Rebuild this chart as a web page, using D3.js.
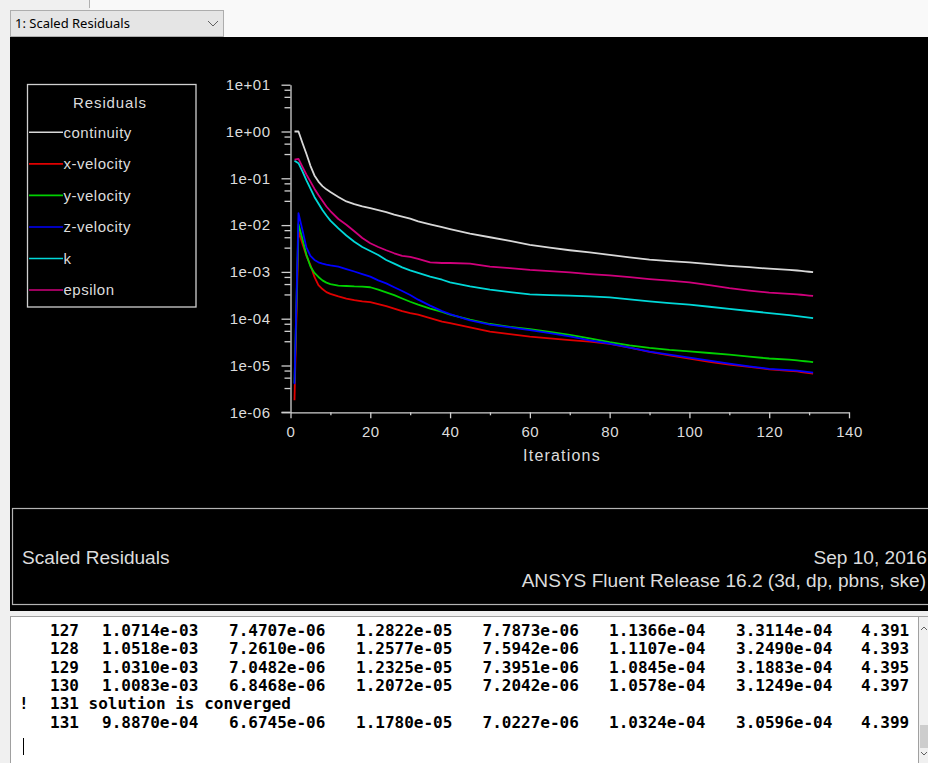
<!DOCTYPE html>
<html><head><meta charset="utf-8">
<script src="https://cdn.jsdelivr.net/npm/d3@7"></script>
<style>
html,body{margin:0;padding:0;background:#f0f0f0;overflow:hidden;}
svg{display:block;}
</style></head><body>
<svg id="c" width="928" height="763"></svg>
<script>
// ---------------- data ----------------
const iterations = [1,2,3,4,5,6,7,8,9,10,12,14,16,18,20,22,24,26,28,30,32,35,38,40,45,50,55,60,65,70,75,80,85,90,95,100,105,110,115,120,125,127,128,129,130,131];
const continuity = [1.0,1.0,0.57,0.33,0.185,0.115,0.085,0.068,0.058,0.051,0.040,0.032,0.028,0.025,0.023,0.021,0.019,0.0168,0.0152,0.0137,0.0120,0.0104,0.0090,0.0082,0.0066,0.0055,0.0046,0.0038,0.0033,0.0029,0.0026,0.0023,0.00205,0.00183,0.00170,0.00160,0.00147,0.00135,0.00126,0.00117,0.00111,1.0714e-3,1.0518e-3,1.0310e-3,1.0083e-3,9.8870e-4];
const xVelocity = [1.8e-6,7.5e-3,4.0e-3,2.2e-3,1.4e-3,7.8e-4,5.2e-4,4.3e-4,3.7e-4,3.4e-4,3.0e-4,2.7e-4,2.5e-4,2.35e-4,2.25e-4,2.05e-4,1.85e-4,1.65e-4,1.45e-4,1.32e-4,1.22e-4,1.03e-4,8.7e-5,8.0e-5,6.5e-5,5.3e-5,4.7e-5,4.15e-5,3.8e-5,3.5e-5,3.25e-5,2.9e-5,2.4e-5,1.95e-5,1.65e-5,1.4e-5,1.2e-5,1.05e-5,9.3e-6,8.3e-6,7.7e-6,7.4707e-6,7.2610e-6,7.0482e-6,6.8468e-6,6.6745e-6];
const yVelocity = [4.2e-6,1.05e-2,5.0e-3,2.3e-3,1.3e-3,9.5e-4,7.8e-4,6.6e-4,5.9e-4,5.5e-4,5.1e-4,5.0e-4,4.9e-4,4.85e-4,4.7e-4,4.2e-4,3.65e-4,3.2e-4,2.7e-4,2.3e-4,2.0e-4,1.65e-4,1.4e-4,1.22e-4,9.5e-5,7.7e-5,6.7e-5,6.0e-5,5.2e-5,4.5e-5,3.8e-5,3.15e-5,2.7e-5,2.37e-5,2.15e-5,2.0e-5,1.85e-5,1.7e-5,1.55e-5,1.41e-5,1.33e-5,1.2822e-5,1.2577e-5,1.2325e-5,1.2072e-5,1.1780e-5];
const zVelocity = [4.0e-6,1.8e-2,7.8e-3,3.3e-3,2.2e-3,1.8e-3,1.6e-3,1.5e-3,1.43e-3,1.38e-3,1.3e-3,1.15e-3,1.02e-3,9.0e-4,7.9e-4,6.6e-4,5.7e-4,4.7e-4,3.9e-4,3.2e-4,2.55e-4,1.9e-4,1.45e-4,1.25e-4,9.2e-5,7.5e-5,6.5e-5,5.7e-5,4.9e-5,4.2e-5,3.45e-5,2.95e-5,2.4e-5,1.97e-5,1.7e-5,1.47e-5,1.27e-5,1.1e-5,9.6e-6,8.5e-6,8.0e-6,7.7873e-6,7.5942e-6,7.3951e-6,7.2042e-6,7.0227e-6];
const kResidual = [0.236,0.21,0.14,0.09,0.06,0.04,0.029,0.021,0.016,0.0125,0.0085,0.006,0.0044,0.0034,0.0028,0.0023,0.0018,0.0015,0.00125,0.00108,0.00095,0.00079,0.00068,0.0006,0.00049,0.00042,0.00037,0.00033,0.00032,0.00031,0.00030,0.000285,0.00026,0.000235,0.000215,0.0002,0.00018,0.000162,0.000146,0.000132,0.000119,1.1366e-4,1.1107e-4,1.0845e-4,1.0578e-4,1.0324e-4];
const epsilonResidual = [0.25,0.26,0.175,0.12,0.085,0.06,0.044,0.033,0.025,0.02,0.0135,0.0102,0.0074,0.0053,0.0041,0.0034,0.0029,0.0025,0.0022,0.0021,0.0019,0.0016,0.00155,0.00155,0.0015,0.0013,0.0012,0.0011,0.00104,0.00098,0.0009,0.00084,0.00077,0.0007,0.00065,0.0006,0.00052,0.00045,0.0004,0.00036,0.00034,3.3114e-4,3.2490e-4,3.1883e-4,3.1249e-4,3.0596e-4];

const seriesNames = ["continuity","x-velocity","y-velocity","z-velocity","k","epsilon"];
const seriesValues = [continuity,xVelocity,yVelocity,zVelocity,kResidual,epsilonResidual];

const xTicks = [0,20,40,60,80,100,120,140];
const xMinorTicks = [10,30,50,70,90,110,130];
const yTicks = [1e-6,1e-5,1e-4,1e-3,1e-2,1e-1,1e0,1e1];
const yTickLabels = ["1e-06","1e-05","1e-04","1e-03","1e-02","1e-01","1e+00","1e+01"];
const yMinorFactors = [0.78,0.55,0.33];

const consoleRows = [
  ["127","1.0714e-03","7.4707e-06","1.2822e-05","7.7873e-06","1.1366e-04","3.3114e-04","4.391"],
  ["128","1.0518e-03","7.2610e-06","1.2577e-05","7.5942e-06","1.1107e-04","3.2490e-04","4.393"],
  ["129","1.0310e-03","7.0482e-06","1.2325e-05","7.3951e-06","1.0845e-04","3.1883e-04","4.395"],
  ["130","1.0083e-03","6.8468e-06","1.2072e-05","7.2042e-06","1.0578e-04","3.1249e-04","4.397"],
  ["131 solution is converged"],
  ["131","9.8870e-04","6.6745e-06","1.1780e-05","7.0227e-06","1.0324e-04","3.0596e-04","4.399"]
];
const convergedMark = "!";
const dropdownLabel = "1: Scaled Residuals";
const footerTitle = "Scaled Residuals";
const footerDate = "Sep 10, 2016";
const footerRelease = "ANSYS Fluent Release 16.2 (3d, dp, pbns, ske)";
const legendTitle = "Residuals";
const xAxisTitle = "Iterations";

// ---------------- style ----------------
const seriesColors = ["#d8d8d8","#e00000","#00d000","#0000ff","#00d8d8","#d0007c"];
const fg = "#dcdcdc";
const sansFont = "'Liberation Sans', Arial, sans-serif";

const svg = d3.select("#c");

// window background
svg.append("rect").attr("x",0).attr("y",0).attr("width",928).attr("height",763).attr("fill","#f0f0f0");
svg.append("rect").attr("x",90).attr("y",0).attr("width",838).attr("height",37).attr("fill","#f9f9f9");
svg.append("rect").attr("x",0).attr("y",0).attr("width",90).attr("height",9).attr("fill","#f0f0f0");
svg.append("line").attr("x1",89.5).attr("x2",89.5).attr("y1",0).attr("y2",8).attr("stroke","#b0b0b0");

// dropdown
const dd = svg.append("g");
dd.append("rect").attr("x",10.5).attr("y",10.5).attr("width",213).attr("height",26).attr("fill","#e5e5e5").attr("stroke","#adadad");
dd.append("text").attr("x",15).attr("y",28).attr("font-family","'Noto Sans', 'Open Sans', sans-serif").attr("font-size",13).attr("fill","#000").text(dropdownLabel);
dd.append("path").attr("d","M208,21 L213,26 L218,21").attr("fill","none").attr("stroke","#606060").attr("stroke-width",1);

// black graphics area
svg.append("rect").attr("x",10).attr("y",37).attr("width",918).attr("height",574).attr("fill","#000");

// scales
const x = d3.scaleLinear().domain([0,140]).range([290.5,849]);
const y = d3.scaleLog().domain([1e-6,1e1]).range([412.3,84.7]);

// axes
const yMinor = [];
yTicks.slice(1).forEach(t => yMinorFactors.forEach(f => yMinor.push(t*f)));

const axStyle = g => {
  g.selectAll("path,line").attr("stroke","#d0d0d0").attr("stroke-width",1.3);
  g.selectAll("text").attr("fill",fg).attr("font-family",sansFont).attr("font-size",15).attr("letter-spacing","0.5px");
};

svg.append("g").attr("transform","translate(290.5,0)")
  .call(d3.axisLeft(y).tickValues(yTicks).tickSize(9).tickSizeOuter(0).tickPadding(11)
    .tickFormat((d,i)=>yTickLabels[i]))
  .call(axStyle);
svg.append("g").attr("transform","translate(290.5,0)")
  .call(d3.axisLeft(y).tickValues(yMinor).tickSize(6).tickSizeOuter(0).tickFormat(""))
  .call(g=>g.select(".domain").remove())
  .call(axStyle);

svg.append("g").attr("transform","translate(0,412.3)")
  .call(d3.axisBottom(x).tickValues(xTicks).tickSize(6).tickSizeOuter(0).tickPadding(8))
  .call(axStyle);
svg.append("g").attr("transform","translate(0,412.3)")
  .call(d3.axisBottom(x).tickValues(xMinorTicks).tickSize(3).tickSizeOuter(0).tickFormat(""))
  .call(g=>g.select(".domain").remove())
  .call(axStyle);
svg.append("line").attr("x1",281.5).attr("x2",290.5).attr("y1",412.3).attr("y2",412.3).attr("stroke","#d0d0d0").attr("stroke-width",1.3);

svg.append("text").attr("x",562).attr("y",461).attr("text-anchor","middle")
  .attr("fill",fg).attr("font-family",sansFont).attr("font-size",16).attr("letter-spacing","1.2px").text(xAxisTitle);

// series lines
const line = d3.line().x(d=>x(d[0])).y(d=>y(d[1]));
seriesValues.forEach((vals,si)=>{
  svg.append("path")
    .datum(iterations.map((it,i)=>[it,vals[i]]))
    .attr("fill","none").attr("stroke",seriesColors[si]).attr("stroke-width",1.8)
    .attr("stroke-linejoin","round")
    .attr("d",line);
});

// legend
const lg = svg.append("g");
lg.append("rect").attr("x",27.5).attr("y",84.5).attr("width",168.5).attr("height",222.5)
  .attr("fill","#000").attr("stroke","#d0d0d0").attr("stroke-width",1.3);
lg.append("text").attr("x",110).attr("y",107.5).attr("text-anchor","middle")
  .attr("fill",fg).attr("font-family",sansFont).attr("font-size",15).attr("letter-spacing","0.9px").text(legendTitle);
seriesNames.forEach((n,i)=>{
  const yy = 132.3 + i*31.55;
  lg.append("line").attr("x1",29).attr("x2",63).attr("y1",yy).attr("y2",yy).attr("stroke",seriesColors[i]).attr("stroke-width",1.6);
  lg.append("text").attr("x",63.5).attr("y",yy+5.2).attr("fill",fg).attr("font-family",sansFont)
    .attr("font-size",15).attr("letter-spacing","0.5px").text(n);
});

// footer box
svg.append("rect").attr("x",12.5).attr("y",508.5).attr("width",920).attr("height",96)
  .attr("fill","none").attr("stroke","#b4b4b4").attr("stroke-width",1.2);
const footFont = 19.1;
svg.append("text").attr("x",22).attr("y",563.5).attr("fill",fg).attr("font-family",sansFont).attr("font-size",footFont).text(footerTitle);
svg.append("text").attr("x",927).attr("y",563.5).attr("text-anchor","end").attr("fill",fg).attr("font-family",sansFont).attr("font-size",footFont).text(footerDate);
svg.append("text").attr("x",926).attr("y",586.5).attr("text-anchor","end").attr("fill",fg).attr("font-family",sansFont).attr("font-size",footFont).text(footerRelease);

// console
svg.append("rect").attr("x",10.5).attr("y",616.5).attr("width",920).attr("height",150).attr("fill","#fff").attr("stroke","#a0a0a0");
const colX = [50,102,229,356,482.5,609,736,861];
const cons = svg.append("g").attr("font-family","'DejaVu Sans Mono', 'Liberation Mono', monospace")
  .attr("font-weight","bold").attr("font-size",16).attr("fill","#000");
consoleRows.forEach((row,ri)=>{
  const yy = 630 + ri*18.4 + 5.8;
  row.forEach((tok,ci)=>{
    cons.append("text").attr("x",colX[ci]).attr("y",yy).text(tok);
  });
});
cons.append("text").attr("x",19).attr("y",630+4*18.4+5.8).text(convergedMark);
svg.append("line").attr("x1",23.5).attr("x2",23.5).attr("y1",738).attr("y2",755).attr("stroke","#000").attr("stroke-width",1);

// scrollbar
svg.append("rect").attr("x",918.5).attr("y",617).attr("width",10).attr("height",146).attr("fill","#f0f0f0");
svg.append("line").attr("x1",918.5).attr("x2",918.5).attr("y1",617).attr("y2",763).attr("stroke","#a0a0a0");
svg.append("rect").attr("x",920).attr("y",725).attr("width",8).attr("height",23).attr("fill","#cdcdcd");
svg.append("path").attr("d","M921,630 L924,627 L927,630").attr("fill","none").attr("stroke","#606060");
svg.append("path").attr("d","M921,752 L924,755 L927,752").attr("fill","none").attr("stroke","#606060");
</script>
</body></html>
